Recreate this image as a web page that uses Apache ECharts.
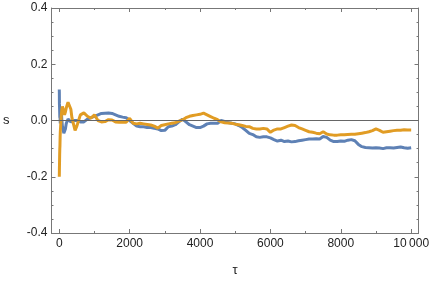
<!DOCTYPE html>
<html><head><meta charset="utf-8">
<script src="https://cdn.jsdelivr.net/npm/echarts@6/dist/echarts.min.js"></script>
<style>html,body{margin:0;padding:0;background:#fff}#c{width:432px;height:282px}</style>
</head><body><div id="c"></div>
<script>
const tau = [1,3,5,8,12,16,20,25,30,40, 50,60,75,90,110,130,150,175,200,225, 250,275,300,330,360,400,450,500,550,600, 650,700,750,800,
  900,1000,1100,1200,1300,1400,1500,1600,1700,1800,1900,
  2000,2100,2200,2300,2400,2500,2600,2700,2800,2900,
  3000,3100,3200,3300,3400,3500,3600,3700,3800,3900,
  4000,4100,4200,4300,4400,4500,4600,4700,4800,4900,
  5000,5100,5200,5300,5400,5500,5600,5700,5800,5900,
  6000,6100,6200,6300,6400,6500,6600,6700,6800,6900,
  7000,7100,7200,7300,7400,7500,7600,7700,7800,7900,
  8000,8100,8200,8300,8400,8500,8600,8700,8800,8900,
  9000,9100,9200,9300,9400,9500,9600,9700,9800,9900,10000];
const blueS = [0.11,0.10,0.06,0.05,0.03,0.01,0.03,0.0,-0.01,0.02, 0.04,0.03,0.0,-0.02,-0.03,-0.045,-0.05,-0.03,-0.01,-0.005, 0.005,0.01,0.005,-0.005,0.0,0.0,0.002,0.0,0.0,-0.005, -0.008,-0.005,0.0,0.005,
  0.01,0.015,0.02,0.025,0.026,0.027,0.025,0.02,0.015,0.012,0.01,
  0.0,-0.01,-0.02,-0.022,-0.022,-0.025,-0.025,-0.028,-0.03,-0.036,
  -0.035,-0.022,-0.02,-0.015,-0.005,0.005,-0.005,-0.015,-0.02,-0.025,
  -0.025,-0.02,-0.012,-0.01,-0.01,-0.01,0.0,-0.003,-0.007,-0.01,
  -0.012,-0.018,-0.025,-0.035,-0.046,-0.05,-0.058,-0.06,-0.058,-0.058,
  -0.062,-0.068,-0.073,-0.07,-0.075,-0.073,-0.076,-0.075,-0.072,-0.07,
  -0.068,-0.066,-0.066,-0.065,-0.066,-0.057,-0.06,-0.07,-0.075,-0.075,
  -0.073,-0.074,-0.07,-0.068,-0.072,-0.085,-0.093,-0.096,-0.097,-0.098,
  -0.097,-0.098,-0.1,-0.097,-0.097,-0.098,-0.096,-0.094,-0.097,-0.099,-0.097];
const orangeS = [-0.20,-0.19,-0.17,-0.15,-0.12,-0.10,-0.09,-0.06,-0.04,-0.02, 0.0,0.02,0.04,0.05,0.055,0.045,0.02,0.03,0.045,0.055, 0.065,0.07,0.06,0.04,0.01,-0.01,-0.035,-0.02,0.0,0.02, 0.025,0.027,0.02,0.015,
  0.008,0.02,0.0,-0.005,-0.004,0.003,0.002,-0.005,-0.006,-0.006,-0.006,
  0.008,-0.01,-0.012,-0.01,-0.012,-0.014,-0.016,-0.02,-0.027,-0.018,
  -0.015,-0.012,-0.01,-0.008,-0.002,0.002,0.01,0.015,0.018,0.02,
  0.022,0.026,0.02,0.014,0.008,0.003,-0.005,-0.008,-0.009,-0.01,
  -0.013,-0.015,-0.018,-0.021,-0.022,-0.028,-0.03,-0.03,-0.028,-0.03,
  -0.042,-0.034,-0.03,-0.03,-0.025,-0.02,-0.016,-0.018,-0.025,-0.03,
  -0.035,-0.04,-0.042,-0.045,-0.047,-0.04,-0.048,-0.051,-0.052,-0.052,
  -0.051,-0.051,-0.05,-0.049,-0.049,-0.047,-0.045,-0.043,-0.04,-0.036,
  -0.03,-0.035,-0.042,-0.04,-0.038,-0.036,-0.035,-0.035,-0.033,-0.034,-0.034];
const xMajorTicks = [0,2000,4000,6000,8000,10000];
const xMinorTicks = [1000,3000,5000,7000,9000];
const xTickLabels = ['0','2000','4000','6000','8000','10\u2009000'];
const yLabels = {'-0.4':'-0.4','-0.2':'-0.2','0':'0.0','0.2':'0.2','0.4':'0.4'};

const FRAME = '#777', TXT = '#222', FONT = 'Liberation Sans, Arial, sans-serif';
const XMIN = -220, XMAX = 10210;
function xAx(pos, ticks, len, labels, line) {
  return {
    type: 'value', position: pos, min: XMIN, max: XMAX,
    axisLine: {show: line, onZero: false, lineStyle: {color: FRAME, width: 1}},
    axisTick: {show: true, inside: true, length: len, customValues: ticks, lineStyle: {color: FRAME}},
    axisLabel: labels ? {show: true, customValues: ticks, margin: 5, color: TXT, fontSize: 12, fontFamily: FONT,
      formatter: v => xTickLabels[xMajorTicks.indexOf(v)] ?? ''} : {show: false},
    splitLine: {show: false},
    name: labels && pos === 'bottom' ? 'τ' : '', nameLocation: 'middle', nameGap: 31,
    nameTextStyle: {color: TXT, fontSize: 13, fontFamily: FONT}
  };
}
function yAx(pos, labels) {
  return {
    type: 'value', position: pos, min: -0.4, max: 0.4, interval: 0.2,
    axisLine: {show: true, onZero: false, lineStyle: {color: FRAME, width: 1}},
    axisTick: {show: true, inside: true, length: 4, lineStyle: {color: FRAME}},
    minorTick: {show: true, splitNumber: 4, length: 2, lineStyle: {color: FRAME}},
    axisLabel: labels ? {show: true, margin: 4, color: TXT, fontSize: 12, fontFamily: FONT,
      formatter: v => yLabels[String(Math.round(v*10)/10)] ?? v.toFixed(1)} : {show: false},
    splitLine: {show: false}, minorSplitLine: {show: false},
    name: labels ? 's' : '', nameLocation: 'middle', nameRotate: 0, nameGap: 42,
    nameTextStyle: {color: TXT, fontSize: 13, fontFamily: FONT}
  };
}
const chart = echarts.init(document.getElementById('c'), null, {renderer: 'canvas'});
chart.setOption({
  animation: false,
  grid: {left: 49, right: 13, top: 8, bottom: 45, containLabel: false},
  xAxis: [xAx('bottom', xMajorTicks, 4, true, true), xAx('bottom', xMinorTicks, 2, false, false),
          xAx('top', xMajorTicks, 4, false, true), xAx('top', xMinorTicks, 2, false, false)],
  yAxis: [yAx('left', true), yAx('right', false)],
  series: [
    {type: 'line', xAxisIndex: 0, yAxisIndex: 0, showSymbol: false, symbol: 'none', smooth: false,
     data: tau.map((t, i) => [t, blueS[i]]), lineStyle: {color: '#5E81B5', width: 3}, itemStyle: {color: '#5E81B5'},
     markLine: {silent: true, symbol: ['none','none'], label: {show: false},
       lineStyle: {color: '#666', width: 1, type: 'solid'}, data: [{yAxis: 0}]}},
    {type: 'line', xAxisIndex: 0, yAxisIndex: 0, showSymbol: false, symbol: 'none', smooth: false,
     data: tau.map((t, i) => [t, orangeS[i]]), lineStyle: {color: '#E19C24', width: 3}, itemStyle: {color: '#E19C24'}}
  ]
});
</script></body></html>
